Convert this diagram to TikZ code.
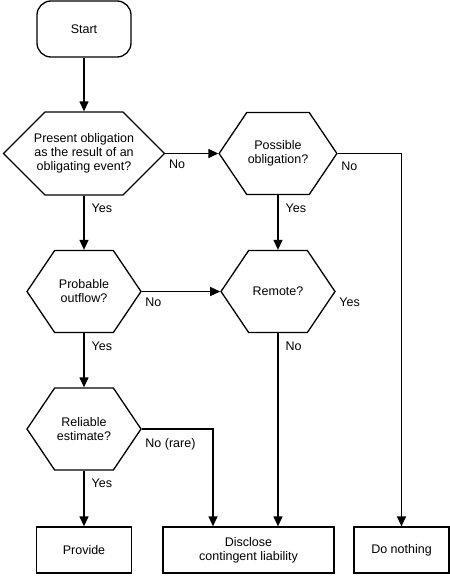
\documentclass[tikz,border=0pt]{standalone}
\usepackage{fontspec}
\setmainfont{Liberation Sans}
\usetikzlibrary{shapes,arrows.meta,positioning}

\tikzset{
  hexa/.style={draw,signal,signal to=east and west,signal pointer angle=112,minimum width=114pt,minimum height=82pt,align=center,inner sep=1pt},
  box/.style={draw,rectangle,minimum width=95pt,minimum height=46pt,align=center},
  arr/.style={-{Triangle[length=10pt,width=9pt]}},
  ylbl/.style={anchor=north west,inner sep=0pt,xshift=7pt,yshift=-8pt},
  nlbl/.style={anchor=north west,inner sep=0pt,xshift=3pt,yshift=-6pt}
}

\begin{document}
\begin{tikzpicture}[x=1pt,y=-1pt,line width=1.3pt,font=\fontsize{12.5}{14}\selectfont]
\useasboundingbox (0,0) rectangle (450,576);
\node[draw,rounded corners=14pt,minimum width=94pt,minimum height=56pt] (start) at (84,29) {Start};
\node[hexa,signal pointer angle=90,inner xsep=-11pt,minimum width=161pt,minimum height=83pt] (oblig) at (84,153.5) {Present obligation\\as the result of an\\obligating event?};
\node[hexa] (possible) at (278,153.5) {Possible\\obligation?};
\node[hexa] (probable) at (84,291.5) {Probable\\outflow?};
\node[hexa] (remote) at (278,291.5) {Remote?};
\node[hexa] (reliable) at (84,429) {Reliable\\estimate?};
\node[box] (provide) at (84,550) {Provide};
\node[box,minimum width=171pt] (disclose) at (248.5,550) {Disclose\\contingent liability};
\node[box] (nothing) at (401.5,550) {Do nothing};
\draw[arr] (start.south) -- (oblig.north);
\draw[arr] (oblig.east) -- node[pos=0,nlbl] {No} (possible.west);
\draw[arr] (oblig.south) -- node[pos=0,ylbl] {Yes} (probable.north);
\draw[arr] (possible.east) -| node[pos=0,nlbl,yshift=-2pt] {No} (nothing.north);
\draw[arr] (possible.south) -- node[pos=0,ylbl] {Yes} (remote.north);
\draw[arr] (probable.east) -- node[pos=0,nlbl] {No} (remote.west);
\draw[arr] (probable.south) -- node[pos=0,ylbl] {Yes} (reliable.north);
\node[nlbl] (remoteyes) at (remote.east) {Yes};
\draw[arr] (remote.south) -- node[pos=0,ylbl] {No} (remote.south |- disclose.north);
\draw[arr] (reliable.east) -| node[pos=0,nlbl,yshift=-3pt] {No (rare)} ([xshift=-35.5pt]disclose.north);
\draw[arr] (reliable.south) -- node[pos=0,ylbl] {Yes} (provide.north);
\end{tikzpicture}
\end{document}
